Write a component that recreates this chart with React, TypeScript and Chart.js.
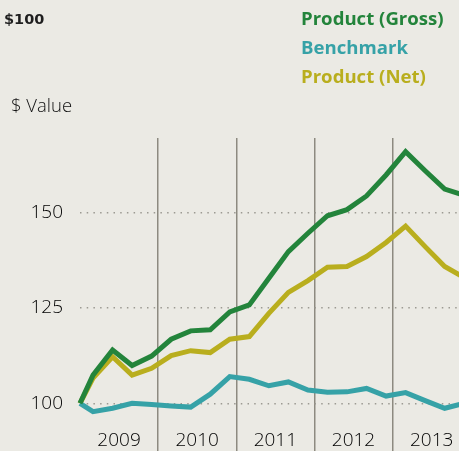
import React, { useEffect, useRef } from "react";
import { Chart, registerables } from "chart.js";

Chart.register(...registerables);

// Months since Jan 2009
const months = [0, 2, 5, 8, 11, 14, 17, 20, 23, 26, 29, 32, 35, 38, 41, 44, 47, 50, 53, 56, 59];
const gross = [100, 107.4, 114.0, 109.9, 112.4, 116.8, 119.0, 119.3, 124.0, 125.8, 132.8, 139.8, 144.6, 149.2, 150.8, 154.4, 159.9, 166.0, 161.0, 156.2, 154.6];
const benchmark = [100, 97.8, 98.7, 100.0, 99.7, 99.3, 99.0, 102.4, 107.0, 106.3, 104.6, 105.6, 103.5, 102.9, 103.0, 103.9, 101.9, 102.8, 100.7, 98.7, 100.0];
const net = [100, 106.6, 112.2, 107.4, 109.2, 112.5, 113.8, 113.3, 116.8, 117.5, 123.6, 129.1, 132.2, 135.7, 135.9, 138.5, 142.2, 146.5, 141.1, 135.9, 133.0];
const yearStarts = [0, 12, 24, 36, 48];
const firstYear = 2009;
const yTicks = [100, 125, 150];
const seriesNames = ["Product (Gross)", "Benchmark", "Product (Net)"];

const GREEN = "#23843b";
const TEAL = "#36a2a7";
const OLIVE = "#b9ae1e";
const BG = "#ebeae4";
const SEP = "#8d8a80";
const DOT = "#9c9a92";
const FONT = "'Open Sans', sans-serif";

export default function App() {
  const ref = useRef<HTMLCanvasElement | null>(null);

  useEffect(() => {
    if (!ref.current) return;
    const mk = (label: string, vals: number[], color: string) => ({
      label,
      data: months.map((m, i) => ({ x: m, y: vals[i] })),
      borderColor: color,
      backgroundColor: color,
      borderWidth: 5,
      pointRadius: 0,
      tension: 0,
      clip: false as any,
      borderJoinStyle: "miter" as const,
    });
    const chart = new Chart(ref.current, {
      type: "line",
      data: {
        datasets: [
          mk(seriesNames[0], gross, GREEN),
          mk(seriesNames[1], benchmark, TEAL),
          mk(seriesNames[2], net, OLIVE),
        ],
      },
      options: {
        animation: false,
        responsive: false,
        devicePixelRatio: 1,
        layout: { padding: { top: 138, left: 0, right: 0, bottom: 0 } },
        plugins: { legend: { display: false }, tooltip: { enabled: false } },
        scales: {
          x: {
            type: "linear",
            min: 0,
            max: 58.2,
            afterBuildTicks: (s: any) => {
              s.ticks = yearStarts.map((v) => ({ value: v }));
            },
            afterFit: (s: any) => {
              s.height = 31;
            },
            grid: {
              color: (ctx: any) =>
                ctx.tick && ctx.tick.value === 0 ? "rgba(0,0,0,0)" : SEP,
              lineWidth: 1.5,
              drawTicks: true,
              tickLength: 36,
            },
            border: { display: false },
            ticks: {
              padding: -27,
              labelOffset: 39.06,
              autoSkip: false,
              maxRotation: 0,
              callback: (v: any) => String(firstYear + Number(v) / 12),
              font: { family: FONT, size: 19, weight: 300 as any },
              color: "#000",
            },
          },
          y: {
            min: 95.62,
            max: 169.6,
            afterBuildTicks: (s: any) => {
              s.ticks = yTicks.map((v) => ({ value: v }));
            },
            afterFit: (s: any) => {
              s.width = 80;
            },
            grid: { color: DOT, lineWidth: 1.5, drawTicks: false },
            border: { display: false, dash: [1.5, 5.2] },
            ticks: {
              padding: 17,
              font: { family: FONT, size: 19, weight: 300 as any },
              color: "#000",
            },
          },
        },
      },
    });
    return () => chart.destroy();
  }, []);

  return (
    <div
      style={{
        position: "fixed",
        left: 0,
        top: 0,
        width: 459,
        height: 451,
        background: BG,
        overflow: "hidden",
      }}
    >
      <canvas
        ref={ref}
        width={459}
        height={451}
        style={{ position: "absolute", left: 0, top: 0, width: 459, height: 451 }}
      />
      <div
        style={{
          position: "absolute",
          left: 4,
          top: 9,
          fontFamily: "'DejaVu Sans', sans-serif",
          fontWeight: 700,
          fontSize: 14.5,
          color: "#1f1f1f",
          lineHeight: "20px",
        }}
      >
        $100
      </div>
      <div
        style={{
          position: "absolute",
          left: 301,
          top: 4,
          fontFamily: FONT,
          fontWeight: 700,
          fontSize: 18.6,
          lineHeight: "28.8px",
          whiteSpace: "nowrap",
        }}
      >
        <div style={{ color: GREEN }}>{seriesNames[0]}</div>
        <div style={{ color: TEAL }}>{seriesNames[1]}</div>
        <div style={{ color: OLIVE }}>{seriesNames[2]}</div>
      </div>
      <div
        style={{
          position: "absolute",
          left: 11,
          top: 93,
          fontFamily: FONT,
          fontSize: 18.5,
          fontWeight: 300,
          lineHeight: "24px",
          color: "#111",
          whiteSpace: "nowrap",
        }}
      >
        $ Value
      </div>
    </div>
  );
}
